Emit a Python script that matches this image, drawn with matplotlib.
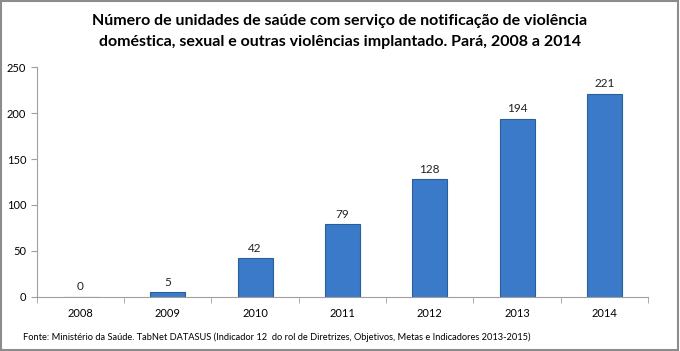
import matplotlib.pyplot as plt
from matplotlib.patches import Rectangle

# Dados
anos = ["2008", "2009", "2010", "2011", "2012", "2013", "2014"]
unidades = [0, 5, 42, 79, 128, 194, 221]

plt.rcParams["font.family"] = ["Lato", "DejaVu Sans"]

fig = plt.figure(figsize=(6.8, 3.51), dpi=100)
ax = fig.add_axes([0.054, 0.154, 0.899, 0.655])

x = range(len(anos))
barras = ax.bar(x, unidades, width=0.4, color="#3b7ac8", edgecolor="#2a5d9c", linewidth=0.8)

for xi, v in zip(x, unidades):
    ax.text(xi, v + 5, str(v), ha="center", va="bottom", fontsize=8.5, color="#222222")

ax.set_xlim(-0.5, len(anos) - 0.5)
ax.set_ylim(0, 250)
ax.set_yticks(range(0, 251, 50))
ax.set_xticks(list(x))
ax.set_xticklabels(anos)
ax.set_xticks([i - 0.5 for i in range(len(anos) + 1)], minor=True)
ax.tick_params(axis="x", which="major", length=0, labelsize=8, pad=8)
ax.tick_params(axis="x", which="minor", length=4, color="#a0a0a0")
ax.tick_params(axis="y", length=4, color="#a0a0a0", labelsize=8)

for lado in ["top", "right"]:
    ax.spines[lado].set_visible(False)
ax.spines["left"].set_color("#a0a0a0")
ax.spines["bottom"].set_color("#a0a0a0")

fig.text(0.5, 0.911, "Número de unidades de saúde com serviço de notificação de violência\n"
         "doméstica, sexual e outras violências implantado. Pará, 2008 a 2014",
         ha="center", va="center", fontsize=11.5, fontweight="bold", linespacing=1.65)

fig.text(0.034, 0.04, "Fonte: Ministério da Saúde. TabNet DATASUS (Indicador 12  do rol de Diretrizes, "
         "Objetivos, Metas e Indicadores 2013-2015)", fontsize=6.7, va="center")

fig.patches.append(Rectangle((0.002, 0.003), 0.995, 0.993, transform=fig.transFigure,
                             fill=False, edgecolor="#8c8c8c", linewidth=1.5))

fig.savefig("out.png", dpi=100)
